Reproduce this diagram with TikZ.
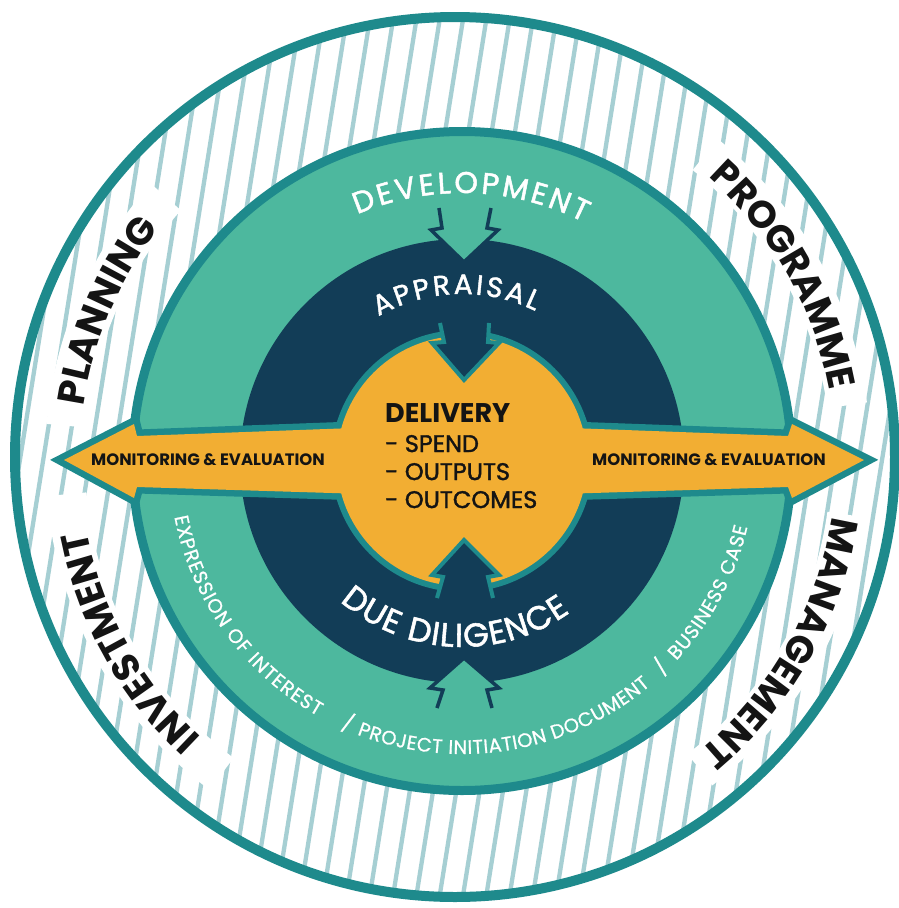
\documentclass[tikz,border=0pt]{standalone}
\usepackage{fontspec}
\setmainfont{Poppins}
\newfontfamily\popmed{Poppins}[FakeBold=1.6]
\newfontfamily\popsm{Poppins}[FakeBold=0.8]
\usetikzlibrary{decorations.text}
\definecolor{tealb}{HTML}{1E8A8C}
\definecolor{hatchc}{HTML}{A6CFD3}
\definecolor{ringg}{HTML}{4DB89E}
\definecolor{navyc}{HTML}{123D57}
\definecolor{yell}{HTML}{F2AE33}
\definecolor{inkc}{HTML}{141414}
\newcommand\fouter{\fontsize{38}{40}\selectfont\bfseries\color{inkc}}
\newcommand\fdev{\fontsize{30}{32}\selectfont\popmed\color{white}}
\newcommand\fapp{\fontsize{28}{30}\selectfont\popmed\color{white}}
\newcommand\fdue{\fontsize{33}{35}\selectfont\popmed\color{white}}
\newcommand\fsmall{\fontsize{19.5}{21}\selectfont\popsm\color{white}}
\tikzset{
  hatchline/.style={hatchc, line width=4.3},
  halo/.style={white, line width=40},
  shaftlinenavy/.style={navyc, line width=3.5, line join=miter},
  shaftlineteal/.style={tealb, line width=4, line join=miter},
  curvetext/.style={decorate, decoration={text along path, text align=center, text={#1}}},
  curvefit/.style={decorate, decoration={text along path, text align={fit to path}, text={#1}}},
  monlabel/.style={font=\fontsize{16.5}{18}\selectfont\bfseries, text=inkc, inner sep=0pt},
  centerlabel/.style={text=inkc, inner sep=0pt, anchor=base west}
}
\begin{document}
\begin{tikzpicture}[x=1pt,y=1pt]
\useasboundingbox (0,0) rectangle (899,-908);
\fill[white] (0,0) rectangle (899,-908);
\coordinate (Co) at (455,-457);
\coordinate (C) at (462,-461);
\coordinate (Ct) at (458,-460);
% hatching of outer ring
\begin{scope}
\clip (Co) circle (437);
\foreach \i in {0,...,56} \draw[hatchline] ({-170+23.3*\i},-920) -- ++(150,940);
\end{scope}
% white halos behind outer words
\draw[halo] ([shift={(175:393)}]Ct) arc[start angle=175,end angle=138,radius=393];
\draw[halo] ([shift={(51:393)}]Ct) arc[start angle=51,end angle=8,radius=393];
\draw[halo] ([shift={(-8:393)}]Ct) arc[start angle=-8,end angle=-52,radius=393];
\draw[halo] ([shift={(233:393)}]Ct) arc[start angle=233,end angle=185,radius=393];
% outer circle
\draw[tealb, line width=10] (Co) circle (440);
% green ring
\draw[tealb, line width=9, fill=ringg] (C) circle (329.5);
% navy ring
\fill[navyc] (C) circle (222);
% green arrowheads into navy ring
\fill[ringg] (439,-205) -- (442,-228) -- (431,-230) -- (464,-262) -- (498,-230) -- (487,-228) -- (491,-205) -- cycle;
\draw[shaftlinenavy] (439,-208) -- (442,-228) -- (431,-230) -- (464,-262) -- (498,-230) -- (487,-228) -- (491,-208);
\fill[ringg] (437,-711) -- (443,-690) -- (430,-688) -- (464,-658) -- (499,-688) -- (487,-690) -- (492,-711) -- cycle;
\draw[shaftlinenavy] (437,-708) -- (443,-690) -- (430,-688) -- (464,-658) -- (499,-688) -- (487,-690) -- (492,-708);
% yellow centre with arrows
\def\bandpath{(64,-460) -- (134,-424) -- (137,-436) -- (462,-424) -- (788,-436) -- (792,-424) -- (864,-460) -- (792,-498) -- (788,-487) -- (462,-497) -- (137,-487) -- (134,-498) -- cycle}
\draw[tealb, line width=13, line join=miter] \bandpath;
\draw[tealb, line width=12] (C) circle (125);
\fill[yell] \bandpath;
\fill[yell] (C) circle (125);
% navy arrowheads into yellow
\fill[navyc] (440,-318) -- (444,-342) -- (432,-343) -- (464,-380) -- (499,-343) -- (488,-342) -- (489,-318) -- cycle;
\draw[shaftlineteal] (440,-323) -- (444,-342) -- (432,-343) -- (464,-380) -- (499,-343) -- (488,-342) -- (489,-323);
\fill[navyc] (437,-603) -- (443,-577) -- (432,-575) -- (464,-540) -- (499,-575) -- (488,-577) -- (493,-603) -- cycle;
\draw[shaftlineteal] (437,-598) -- (443,-577) -- (432,-575) -- (464,-540) -- (499,-575) -- (488,-577) -- (493,-598);
% outer words
\path[curvetext={|\fouter|PLANNING}] ([shift={(202:378)}]Ct) arc[start angle=202,end angle=112,radius=378];
\path[curvetext={|\fouter|PROGRAMME}] ([shift={(75:378)}]Ct) arc[start angle=75,end angle=-16,radius=378];
\path[curvetext={|\fouter|MANAGEMENT}] ([shift={(15:378)}]Ct) arc[start angle=15,end angle=-74,radius=378];
\path[curvetext={|\fouter|INVESTMENT}] ([shift={(254:378)}]Ct) arc[start angle=254,end angle=164,radius=378];
% ring words
\path[curvefit={|\fdev|DEVELOPMENT}] ([shift={(113:268)}]C) arc[start angle=113,end angle=63,radius=268];
\path[curvefit={|\fapp|APPRAISAL}] ([shift={(120:167)}]C) arc[start angle=120,end angle=64,radius=167];
\path[curvefit={|\fdue|DUE DILIGENCE}] ([shift={(229:186)}]C) arc[start angle=229,end angle=305.5,radius=186];
\path[curvefit={|\fsmall|EXPRESSION OF INTEREST}] ([shift={(191:293)}]C) arc[start angle=191,end angle=240.5,radius=293];
\path[curvetext={|\fsmall|/}] ([shift={(240:293)}]C) arc[start angle=240,end angle=253,radius=293];
\path[curvefit={|\fsmall|PROJECT INITIATION DOCUMENT}] ([shift={(249:293)}]C) arc[start angle=249,end angle=310,radius=293];
\path[curvetext={|\fsmall|/}] ([shift={(307.5:293)}]C) arc[start angle=307.5,end angle=320.5,radius=293];
\path[curvefit={|\fsmall|BUSINESS CASE}] ([shift={(317:293)}]C) arc[start angle=317,end angle=347,radius=293];
% monitoring labels
\node[monlabel] (monl) at (208,-460) {MONITORING \& EVALUATION};
\node[monlabel] (monr) at (709,-460) {MONITORING \& EVALUATION};
% centre text
\node[centerlabel, font=\fontsize{27}{29}\selectfont\bfseries] (deliv) at (385,-422) {DELIVERY};
\node[centerlabel, font=\fontsize{24}{26}\selectfont\popmed] (spend) at (385,-452) {- SPEND};
\node[centerlabel, font=\fontsize{24}{26}\selectfont\popmed] (outp) at (385,-480) {- OUTPUTS};
\node[centerlabel, font=\fontsize{24}{26}\selectfont\popmed] (outc) at (385,-508) {- OUTCOMES};
\end{tikzpicture}
\end{document}
